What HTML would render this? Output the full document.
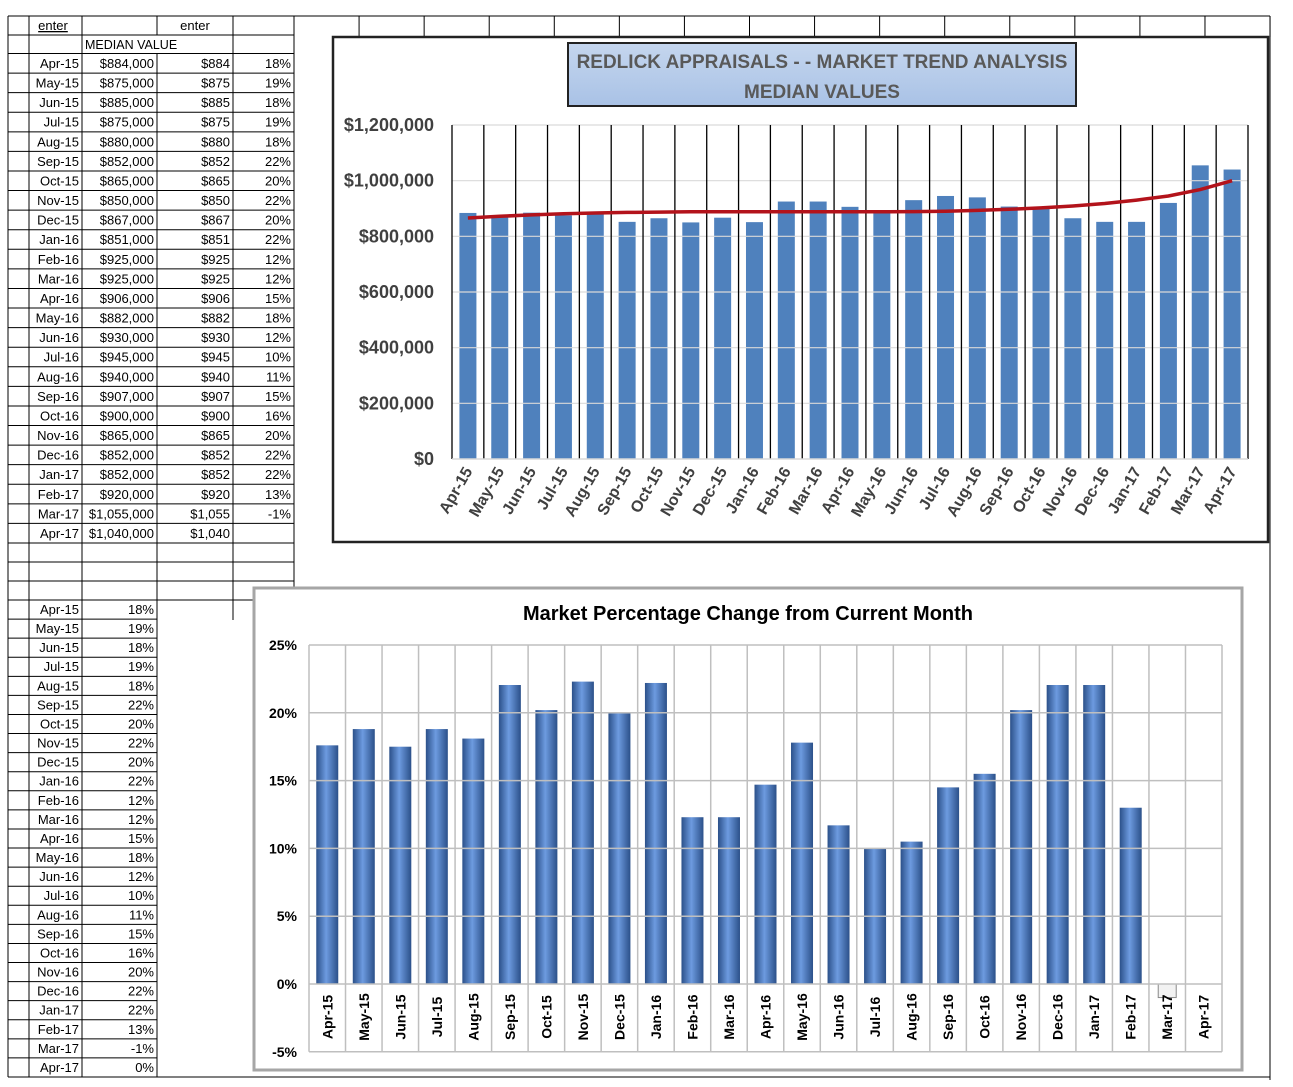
<!DOCTYPE html>
<html><head><meta charset="utf-8"><style>
body{margin:0;background:#fff;}
svg{display:block;font-family:"Liberation Sans",sans-serif;}
</style></head><body>
<svg id="s" width="1293" height="1087" xmlns="http://www.w3.org/2000/svg"></svg>
<script>
const months=["Apr-15","May-15","Jun-15","Jul-15","Aug-15","Sep-15","Oct-15","Nov-15","Dec-15","Jan-16","Feb-16","Mar-16","Apr-16","May-16","Jun-16","Jul-16","Aug-16","Sep-16","Oct-16","Nov-16","Dec-16","Jan-17","Feb-17","Mar-17","Apr-17"];
const cats=["Apr-15","May-15","Jun-15","Jul-15","Aug-15","Sep-15","Oct-15","Nov-15","Dec-15","Jan-16","Feb-16","Mar-16","Apr-16","May-16","Jun-16","Jul-16","Aug-16","Sep-16","Oct-16","Nov-16","Dec-16","Jan-17","Feb-17","Mar-17","Apr-17"];
const medianValues=[884000,875000,885000,875000,880000,852000,865000,850000,867000,851000,925000,925000,906000,882000,930000,945000,940000,907000,900000,865000,852000,852000,920000,1055000,1040000];
const tablePct=["18%","19%","18%","19%","18%","22%","20%","22%","20%","22%","12%","12%","15%","18%","12%","10%","11%","15%","16%","20%","22%","22%","13%","-1%",""];
const lowerPct=["18%","19%","18%","19%","18%","22%","20%","22%","20%","22%","12%","12%","15%","18%","12%","10%","11%","15%","16%","20%","22%","22%","13%","-1%","0%"];
const trendValues=[866000,872000,877000,881000,884000,886000,887000,888000,888000,888000,888000,888000,888000,888000,889000,890000,893000,897000,902000,909000,918000,930000,945000,968000,1000000];
const valueTicks=[0,200000,400000,600000,800000,1000000,1200000];
const pctValues=[17.6,18.8,17.5,18.8,18.1,22.05,20.2,22.3,20.0,22.2,12.3,12.3,14.7,17.8,11.7,10.0,10.5,14.5,15.5,20.2,22.05,22.05,13.0,-1,0];
const pctTicks=[-5,0,5,10,15,20,25];

const S=document.getElementById('s');
const NS="http://www.w3.org/2000/svg";
function mk(tag,attrs,parent){const e=document.createElementNS(NS,tag);for(const k in attrs)e.setAttribute(k,attrs[k]);(parent||S).appendChild(e);return e;}
function line(x1,y1,x2,y2,c,w){return mk('line',{x1,y1,x2,y2,stroke:c||'#000','stroke-width':w||1});}
function txt(x,y,t,o){const e=mk('text',Object.assign({x,y,'font-size':13,fill:'#000'},o||{}));e.textContent=t;return e;}
function fmt(v){return '$'+v.toLocaleString('en-US');}

const defs=mk('defs',{});
const g1=mk('linearGradient',{id:'bg',x1:0,y1:0,x2:1,y2:0},defs);
mk('stop',{offset:'0','stop-color':'#2b5089'},g1);mk('stop',{offset:'0.45','stop-color':'#6d9be0'},g1);mk('stop',{offset:'1','stop-color':'#2b5089'},g1);
const g2=mk('linearGradient',{id:'tg',x1:0,y1:0,x2:0,y2:1},defs);
mk('stop',{offset:'0','stop-color':'#c5d6ee'},g2);mk('stop',{offset:'1','stop-color':'#a9c2e6'},g2);

// ===== upper table =====
const cols=[8,29,82,157,233,294];
const rh=19.58;
const rowTops=[16,35,53.5];
for(let i=1;i<=25;i++)rowTops.push(53.5+i*rh);
rowTops.push(562,581,600);
for(const y of rowTops)line(cols[0],y,cols[5],y,'#000',1);
for(const x of cols){
  if(x===157){line(x,16,x,35,'#000',1);line(x,53.5,x,600,'#000',1);}
  else line(x,16,x,600,'#000',1);
}
line(233,600,233,620,'#000',1);
let e=txt(53,30,'enter',{'text-anchor':'middle','text-decoration':'underline'});


e=txt(195,30,'enter',{'text-anchor':'middle'});


e=txt(85,49,'MEDIAN  VALUE',{'font-size':12.5});


for(let i=0;i<25;i++){
  const cy=53.5+i*rh+14.5;
  const r=mk('g',{});
  
  
  r.appendChild(txt(79,cy,months[i],{'text-anchor':'end'}));
  r.appendChild(txt(154,cy,fmt(medianValues[i]),{'text-anchor':'end'}));
  r.appendChild(txt(230,cy,'$'+Math.round(medianValues[i]/1000).toLocaleString('en-US'),{'text-anchor':'end'}));
  r.appendChild(txt(291,cy,tablePct[i],{'text-anchor':'end'}));
}
// lower table
const lh=19.08;
for(let i=0;i<=25;i++)line(8,600+i*lh,157,600+i*lh,'#000',1);
for(const x of [8,29,82,157])line(x,600,x,1077,'#000',1);
for(let i=0;i<25;i++){
  const cy=600+i*lh+14;
  const r=mk('g',{});
  
  
  r.appendChild(txt(79,cy,months[i],{'text-anchor':'end'}));
  r.appendChild(txt(154,cy,lowerPct[i],{'text-anchor':'end'}));
}
line(294,16,1270,16,'#000',1);
for(let x=294;x<=1271;x+=65.07)line(x,16,x,37,'#000',1);
line(1270,16,1270,1080,'#000',1);
line(157,1077,1270,1077,'#000',1);

// ===== top chart =====
const c1=mk('g',{});


mk('rect',{x:333,y:37,width:935,height:505,fill:'#fff',stroke:'#222','stroke-width':2.5},c1);
const px0=452,px1=1248,py0=459,py1=125;
const yv=v=>py0-(v/1200000)*(py0-py1);
const cw=(px1-px0)/cats.length;
const xc=i=>px0+cw*(i+0.5);
for(const t of valueTicks){
  if(t>0)line(px0,yv(t),px1,yv(t),'#d9d9d9',1.2);
  const tl=txt(434,yv(t)+6,'$'+t.toLocaleString('en-US'),{'text-anchor':'end','font-size':18,'font-weight':'bold',fill:'#404040'});
  
  
}
for(let i=0;i<=cats.length;i++)line(px0+cw*i,py1,px0+cw*i,py0,'#000',1.3);
line(px0,py0,px1,py0,'#d9d9d9',1.5);
for(let i=0;i<cats.length;i++){
  const b=mk('rect',{x:xc(i)-8.5,y:yv(medianValues[i]),width:17,height:py0-yv(medianValues[i]),fill:'#4f81bd'},c1);
  
  
  const l=txt(0,0,cats[i],{'text-anchor':'end','font-size':16,'font-weight':'bold',fill:'#404040',transform:`translate(${xc(i)+5},${py0+12}) rotate(-60)`});
  
  
}
let d='';
for(let i=0;i<cats.length;i++){d+=(i?'L':'M')+xc(i).toFixed(1)+' '+yv(trendValues[i]).toFixed(1);}
const tr=mk('path',{d,fill:'none',stroke:'#b3131b','stroke-width':3.5});


const tb=mk('rect',{x:568,y:43,width:508,height:63,fill:'url(#tg)',stroke:'#222','stroke-width':2});


txt(822,68,'REDLICK APPRAISALS - - MARKET TREND ANALYSIS',{'text-anchor':'middle','font-size':19,'font-weight':'bold',fill:'#595959'});
txt(822,98,'MEDIAN VALUES',{'text-anchor':'middle','font-size':19,'font-weight':'bold',fill:'#595959'});

// ===== bottom chart =====
const c2=mk('g',{});


mk('rect',{x:254,y:588,width:988,height:482,fill:'#fff',stroke:'#a6a6a6','stroke-width':3},c2);
const bt=txt(748,620,'Market Percentage Change from Current Month',{'text-anchor':'middle','font-size':20,'font-weight':'bold'});


const qx0=309,qx1=1222,qTop=645,qZero=984;
const qy=v=>qZero-(v/25)*(qZero-qTop);
const qw=(qx1-qx0)/cats.length;
const qc=i=>qx0+qw*(i+0.5);
for(const t of pctTicks){
  line(qx0,qy(t),qx1,qy(t),'#bfbfbf',1.5);
  const tl=txt(297,qy(t)+5,t+'%',{'text-anchor':'end','font-size':14,'font-weight':'bold'});
  
  
}
for(let i=0;i<=cats.length;i++)line(qx0+qw*i,qTop,qx0+qw*i,qy(-5),'#bfbfbf',1.5);
for(let i=0;i<cats.length;i++){
  const v=pctValues[i];
  if(v>0){
    const b=mk('rect',{x:qc(i)-11,y:qy(v),width:22,height:qZero-qy(v),fill:'url(#bg)'},c2);
    
    
  } else if(v<0){
    const b=mk('rect',{x:qc(i)-9,y:qZero,width:18,height:qy(v)-qZero,fill:'#f2f2f2',stroke:'#888'},c2);
    
    
  }
  const l=txt(0,0,cats[i],{'text-anchor':'middle','font-size':14,'font-weight':'bold',transform:`translate(${qc(i)+5},${qZero+33}) rotate(-90)`});
  
  
}
</script>
</body></html>
